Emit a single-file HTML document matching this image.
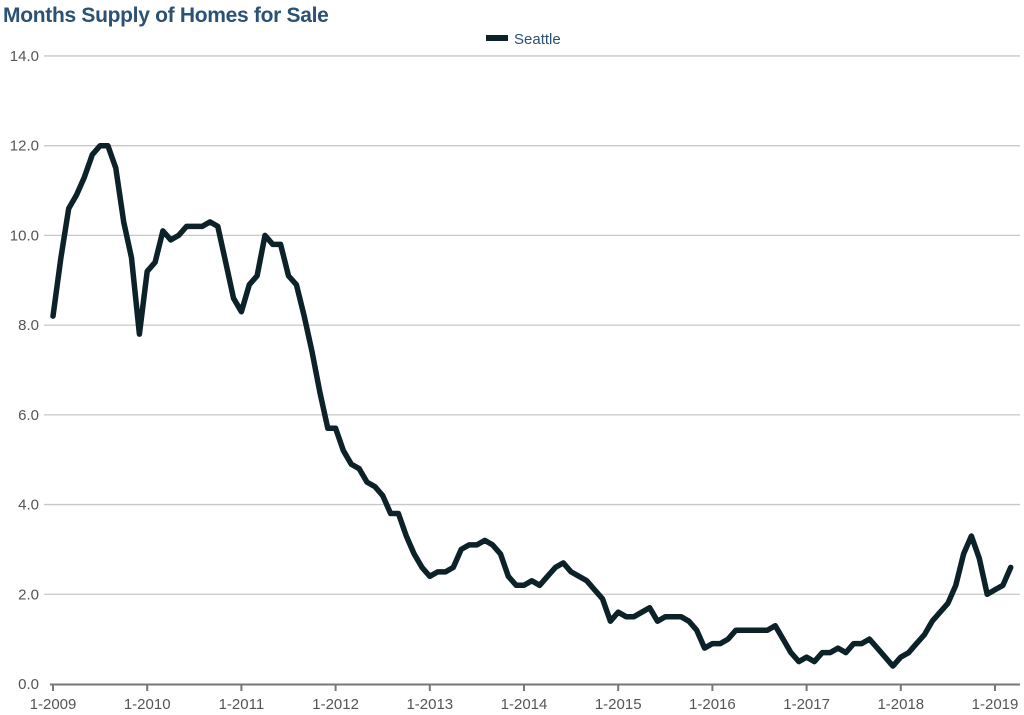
<!DOCTYPE html>
<html><head><meta charset="utf-8"><style>
html,body{margin:0;padding:0;background:#fff;width:1024px;height:715px;overflow:hidden}
svg{display:block;font-family:"Liberation Sans",Arial,sans-serif}
</style></head><body>
<svg id="c" width="1024" height="715" viewBox="0 0 1024 715">
<text x="3" y="22" font-size="21" font-weight="bold" fill="#2b5174" letter-spacing="-0.3">Months Supply of Homes for Sale</text>
<rect x="486" y="35" width="22" height="6" fill="#0d2228"/>
<text x="514" y="44" font-size="15" fill="#2b5174">Seattle</text>
<g id="grid" stroke="#c8c8c8" stroke-width="1.3"></g>
<g id="ylab" font-size="15" fill="#555" text-anchor="end"></g>
<line x1="50" y1="684.5" x2="1020" y2="684.5" stroke="#777" stroke-width="2"/>
<g id="xt" font-size="15" fill="#555" text-anchor="middle"></g>
<polyline id="line" fill="none" stroke="#0d2228" stroke-width="5.5" stroke-linejoin="round" stroke-linecap="round"/>
</svg>
<script>
var NS="http://www.w3.org/2000/svg";
function el(t,a,p,txt){var e=document.createElementNS(NS,t);for(var k in a)e.setAttribute(k,a[k]);if(txt)e.textContent=txt;document.getElementById(p).appendChild(e);}
var y0=684,sc=44.86;
for(var v=0;v<=14;v+=2){var y=y0-v*sc;if(v>0)el('line',{x1:44,x2:1020,y1:y,y2:y},'grid');el('text',{x:39,y:y+5},'ylab',v.toFixed(1));}
var x0=53,py=94.2;
for(var i=0;i<=10;i++){var x=x0+i*py;el('line',{x1:x,x2:x,y1:684,y2:691,stroke:'#777','stroke-width':2},'xt');el('text',{x:x,y:709},'xt','1-'+(2009+i));}
var d=[8.2,9.5,10.6,10.9,11.3,11.8,12.0,12.0,11.5,10.3,9.5,7.8,
9.2,9.4,10.1,9.9,10.0,10.2,10.2,10.2,10.3,10.2,9.4,8.6,
8.3,8.9,9.1,10.0,9.8,9.8,9.1,8.9,8.2,7.4,6.5,5.7,
5.7,5.2,4.9,4.8,4.5,4.4,4.2,3.8,3.8,3.3,2.9,2.6,
2.4,2.5,2.5,2.6,3.0,3.1,3.1,3.2,3.1,2.9,2.4,2.2,
2.2,2.3,2.2,2.4,2.6,2.7,2.5,2.4,2.3,2.1,1.9,1.4,
1.6,1.5,1.5,1.6,1.7,1.4,1.5,1.5,1.5,1.4,1.2,0.8,
0.9,0.9,1.0,1.2,1.2,1.2,1.2,1.2,1.3,1.0,0.7,0.5,
0.6,0.5,0.7,0.7,0.8,0.7,0.9,0.9,1.0,0.8,0.6,0.4,
0.6,0.7,0.9,1.1,1.4,1.6,1.8,2.2,2.9,3.3,2.8,2.0,
2.1,2.2,2.6];
var pts=d.map(function(v,i){return (x0+i*py/12).toFixed(1)+','+(y0-v*sc).toFixed(1);}).join(' ');
document.getElementById('line').setAttribute('points',pts);
</script>
</body></html>
